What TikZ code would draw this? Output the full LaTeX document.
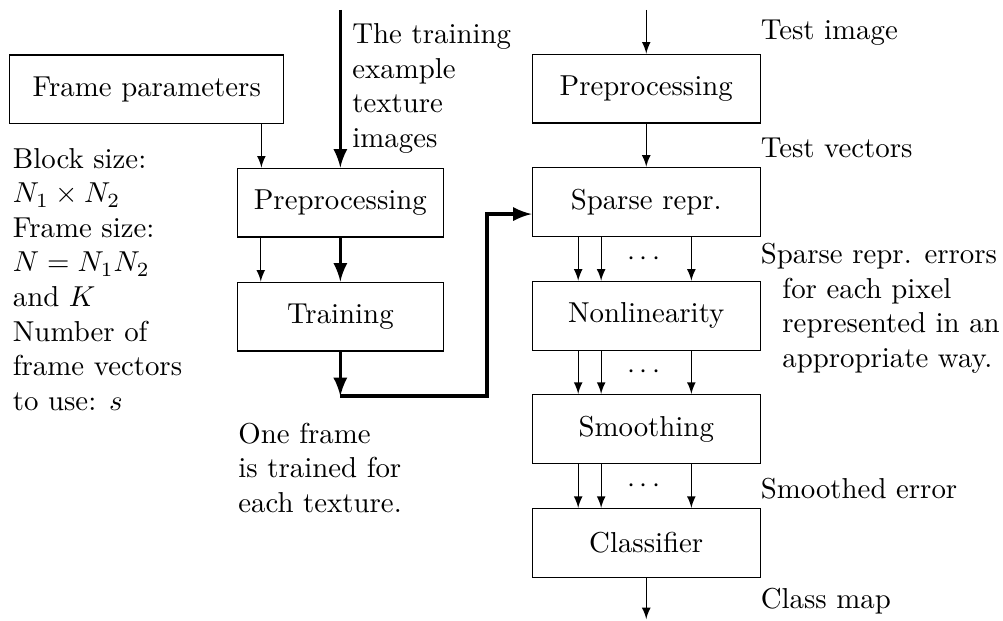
\documentclass[tikz,border=0pt]{standalone}
\usepackage{amsfonts, amssymb, amsmath}
\usepackage{tikz}
\usetikzlibrary{arrows}
\tikzset{blk/.style={draw, minimum height=0.84cm}}
\tikzset{txt/.style={inner sep=0pt, anchor=north west, align=left}}
\tikzset{thk/.style={line width=1.2pt}}

\begin{document}
\begin{tikzpicture}[>=latex]
  \useasboundingbox (0,0) rectangle (12.23,-7.56);
  \node[blk, minimum width=3.34cm] (FP) at (1.79,-1.09) {Frame parameters};
  \node[blk, minimum width=2.51cm] (PP1) at (4.15,-2.47) {Preprocessing};
  \node[blk, minimum width=2.51cm] (TR) at (4.15,-3.86) {Training};
  \node[blk, minimum width=2.78cm] (PP2) at (7.88,-1.08) {Preprocessing};
  \node[blk, minimum width=2.78cm] (SR) at (7.88,-2.46) {Sparse repr.};
  \node[blk, minimum width=2.78cm] (NL) at (7.88,-3.85) {Nonlinearity};
  \node[blk, minimum width=2.78cm] (SM) at (7.88,-5.23) {Smoothing};
  \node[blk, minimum width=2.78cm] (CL) at (7.88,-6.62) {Classifier};

  \coordinate (in1) at (4.15,-0.12);
  \coordinate (in2) at (7.88,-0.12);
  \coordinate (out) at (7.88,-7.55);
  \coordinate (tr) at (4.15,-4.83);
  \coordinate (bend) at (5.94,-4.83);

  \draw[->] ([xshift=-0.28cm]FP.south east) -- ([xshift=-0.28cm]FP.south east |- PP1.north);
  \draw[->] ([xshift=-0.97cm]PP1.south) -- ([xshift=-0.97cm]TR.north);
  \draw[->, thk] (in1) -- (PP1);
  \draw[->, thk] (PP1) -- (TR);
  \draw[->, thk] (TR) -- (tr);
  \draw[->, thk] (tr) -- (bend) |- ([yshift=-0.15cm]SR.west);

  \draw[->] (in2) -- (PP2);
  \draw[->] (PP2) -- (SR);
  \foreach \a/\b in {SR/NL, NL/SM, SM/CL} {
    \foreach \dx in {-0.83,-0.55,0.55}
      \draw[->] ([xshift=\dx cm]\a.south) -- ([xshift=\dx cm]\b.north);
    \path (\a.south) -- (\b.north) node[midway] (dots\a) {$\cdots$};
  }
  \draw[->] (CL) -- (out);

  \node[txt] (TI) at (4.29,-0.28) {The training\\example\\texture\\images};
  \node[txt] (BS) at (0.15,-1.80) {Block size:\\$N_1\times N_2$\\Frame size:\\$N=N_1N_2$\\and $K$\\Number of\\frame vectors\\to use: $s$};
  \node[txt] (OF) at (2.90,-5.15) {One frame\\is trained for\\each texture.};
  \node[txt] (TIm) at (9.27,-0.24) {Test image};
  \node[txt] (TV) at (9.27,-1.67) {Test vectors};
  \node[txt] (SE) at (9.27,-2.96) {Sparse repr. errors\\\hspace*{0.75em}for each pixel\\\hspace*{0.75em}represented in an\\\hspace*{0.75em}appropriate way.};
  \node[txt] (SO) at (9.27,-5.82) {Smoothed error};
  \node[txt] (CM) at (9.27,-7.17) {Class map};
\end{tikzpicture}
\end{document}
